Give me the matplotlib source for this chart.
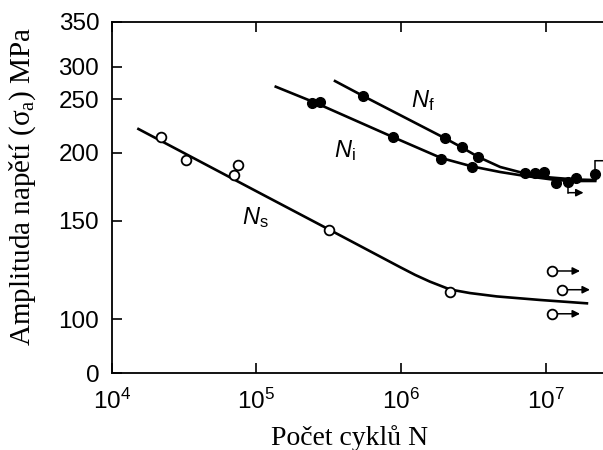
import matplotlib
matplotlib.use('Agg')
import matplotlib.pyplot as plt
import numpy as np

plt.rcParams['font.family'] = 'Liberation Sans'
plt.rcParams['mathtext.fontset'] = 'custom'
plt.rcParams['mathtext.rm'] = 'Liberation Sans'
plt.rcParams['mathtext.it'] = 'Liberation Sans:italic'

# --- data (N in cycles, stress amplitude in MPa) ---
ns_pts_n = [2.19e4, 3.26e4, 7.5e4, 7.0e4, 3.16e5, 2.18e6]
ns_pts_s = [214.4, 194.4, 191.0, 183.6, 145.3, 114.0]
ns_run_n = [1.11e7, 1.30e7, 1.11e7]          # run-outs (arrows)
ns_run_s = [124.5, 115.0, 102.8]
ns_curve_n = [1.53e4, 2.97e4, 1.06e5, 3.18e5, 9.8e5, 1.25e6, 1.58e6, 2.18e6,
              2.99e6, 4.58e6, 9.12e6, 1.92e7]
ns_curve_s = [222.2, 201.6, 170.2, 145.5, 126.5, 122.5, 119.1, 115.1,
              113.3, 111.6, 109.8, 108.1]

nf_pts_n = [5.48e5, 2.01e6, 2.62e6, 3.42e6, 7.18e6, 8.42e6, 9.77e6]
nf_pts_s = [255.0, 213.5, 205.0, 196.8, 185.0, 185.0, 186.0]
nf_curve_n = [3.49e5, 5.46e5, 2.01e6, 2.62e6, 3.42e6, 4.83e6, 7.18e6, 1.07e7,
              1.59e7, 2.19e7]
nf_curve_s = [278.0, 255.1, 213.5, 205.0, 196.8, 189.5, 184.7, 181.8,
              180.3, 179.9]

ni_pts_n = [2.41e5, 2.75e5, 8.75e5, 1.89e6, 3.10e6, 1.18e7, 1.43e7, 1.62e7, 2.19e7]
ni_pts_s = [246.3, 247.2, 214.7, 195.6, 189.7, 177.9, 178.2, 181.2, 184.3]
ni_curve_n = [1.36e5, 2.58e5, 8.75e5, 1.89e6, 3.09e6, 4.83e6, 7.18e6, 1.18e7,
              1.59e7, 2.19e7]
ni_curve_s = [269.3, 246.5, 214.7, 196.1, 189.9, 185.8, 182.9, 179.9,
              179.2, 179.2]

ytick_vals = [0, 100, 150, 200, 250, 300, 350]
xtick_vals = [1e4, 1e5, 1e6, 1e7]
xtick_labels = ['$10^4$', '$10^5$', '$10^6$', '$10^7$']

# the printed y axis is non-uniform (broken log-like), so map it piecewise
ytick_pos = [0, 53.7, 152.3, 220.3, 273.7, 306.3, 351.5]


def fwd(v):
    return np.interp(v, ytick_vals, ytick_pos)


def inv(p):
    return np.interp(p, ytick_pos, ytick_vals)


fig = plt.figure(figsize=(6.03, 4.5), dpi=100)
ax = fig.add_axes([111.7 / 603, 1 - 373 / 450, 1 - 111.7 / 603, 351.5 / 450])
ax.set_xscale('log')
ax.set_yscale('function', functions=(fwd, inv))
ax.set_xlim(1e4, 2.48e7)
ax.set_ylim(0, 350)

lw = 1.9
ax.plot(ns_curve_n, ns_curve_s, color='k', lw=lw, zorder=2)
ax.plot(nf_curve_n, nf_curve_s, color='k', lw=lw, zorder=2)
ax.plot(ni_curve_n, ni_curve_s, color='k', lw=lw, zorder=2)

ax.plot(ns_pts_n, ns_pts_s, 'o', ms=7, mfc='white', mec='k', mew=1.3, zorder=3)
ax.plot(ns_run_n, ns_run_s, 'o', ms=7, mfc='white', mec='k', mew=1.3, zorder=3)
ax.plot(nf_pts_n, nf_pts_s, 'o', ms=7, color='k', zorder=3)
ax.plot(ni_pts_n, ni_pts_s, 'o', ms=7, color='k', zorder=3)

# run-out arrows
for n, s in zip(ns_run_n, ns_run_s):
    ax.annotate('', xy=(n * 1.55, s), xytext=(n, s),
                arrowprops=dict(arrowstyle='-|>', color='k', lw=1.1,
                                shrinkA=4, shrinkB=0, mutation_scale=11))

# stepped arrows on the last solid points
ax.plot([1.43e7, 1.43e7], [178.2, 170.6], color='k', lw=1.1)
ax.annotate('', xy=(1.82e7, 170.6), xytext=(1.43e7, 170.6),
            arrowprops=dict(arrowstyle='-|>', color='k', lw=1.1,
                            shrinkA=0, shrinkB=0, mutation_scale=11))
ax.plot([2.19e7, 2.19e7], [184.3, 194.1], color='k', lw=1.1)
ax.annotate('', xy=(2.9e7, 194.1), xytext=(2.19e7, 194.1),
            arrowprops=dict(arrowstyle='-|>', color='k', lw=1.1,
                            shrinkA=0, shrinkB=0, mutation_scale=11),
            annotation_clip=False)

ax.text(1.42e6, 248.9, r'$\mathit{N}_{\mathrm{f}}$', fontsize=17,
        ha='center', va='center')
ax.text(4.06e5, 201.6, r'$\mathit{N}_{\mathrm{i}}$', fontsize=17,
        ha='center', va='center')
ax.text(9.78e4, 152.0, r'$\mathit{N}_{\mathrm{s}}$', fontsize=17,
        ha='center', va='center')

ax.set_xticks(xtick_vals)
ax.set_xticklabels(xtick_labels)
ax.xaxis.set_minor_locator(matplotlib.ticker.NullLocator())
ax.set_yticks(ytick_vals)
ax.set_yticklabels([str(v) for v in ytick_vals])
ax.yaxis.set_minor_locator(matplotlib.ticker.NullLocator())

ax.spines['right'].set_visible(False)
for sp in ['left', 'bottom', 'top']:
    ax.spines[sp].set_linewidth(1.3)
ax.tick_params(direction='in', length=7, width=1.2, top=True, right=False,
               labelsize=17.5)
ax.tick_params(axis='y', pad=9)
ax.tick_params(axis='x', pad=11)

ax.set_xlabel('Počet cyklů N', family='Liberation Serif', fontsize=20)
ax.xaxis.set_label_coords(0.485, -0.148)
ax.set_ylabel('Amplituda napětí (σ$_\\mathregular{a}$) MPa',
              family='Liberation Serif', fontsize=21)
ax.yaxis.set_label_coords(-0.15, 0.53)

fig.savefig('out.png', dpi=100)
